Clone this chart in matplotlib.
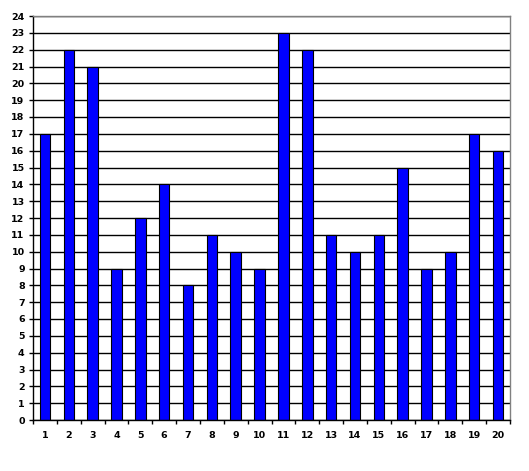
import matplotlib
matplotlib.use("Agg")
import matplotlib.pyplot as plt
import numpy as np

categories = [str(i) for i in range(1, 21)]
values = [17, 22, 21, 9, 12, 14, 8, 11, 10, 9, 23, 22, 11, 10, 11, 15, 9, 10, 17, 16]

fig = plt.figure(figsize=(5.29, 4.71), dpi=100)
ax = fig.add_axes([33 / 529, 51 / 471, 477 / 529, 404 / 471])

x = np.arange(1, len(values) + 1)
ax.bar(x, values, width=0.44, color="#0000ff", edgecolor="black", linewidth=0.8, zorder=3)

ax.set_xlim(0.5, 20.5)
ax.set_ylim(0, 24)
ax.set_yticks(range(0, 25))
ax.set_xticks(x)
ax.set_xticklabels(categories)
ax.set_xticks(np.arange(0.5, 21, 1), minor=True)
ax.yaxis.grid(True, color="black", linewidth=1.0, zorder=0)

ax.tick_params(axis="x", which="major", length=0, pad=8)
ax.tick_params(axis="x", which="minor", length=3, width=1, direction="out", color="black")
ax.tick_params(axis="y", length=3, width=1, direction="out", pad=3)
for lab in ax.get_xticklabels() + ax.get_yticklabels():
    lab.set_fontsize(6.8)
    lab.set_fontweight("bold")

ax.spines["left"].set_color("black")
ax.spines["bottom"].set_color("black")
ax.spines["top"].set_color("#808080")
ax.spines["right"].set_color("#808080")
for s in ax.spines.values():
    s.set_linewidth(1.0)
    s.set_zorder(5)

fig.savefig("out.png", dpi=100)
